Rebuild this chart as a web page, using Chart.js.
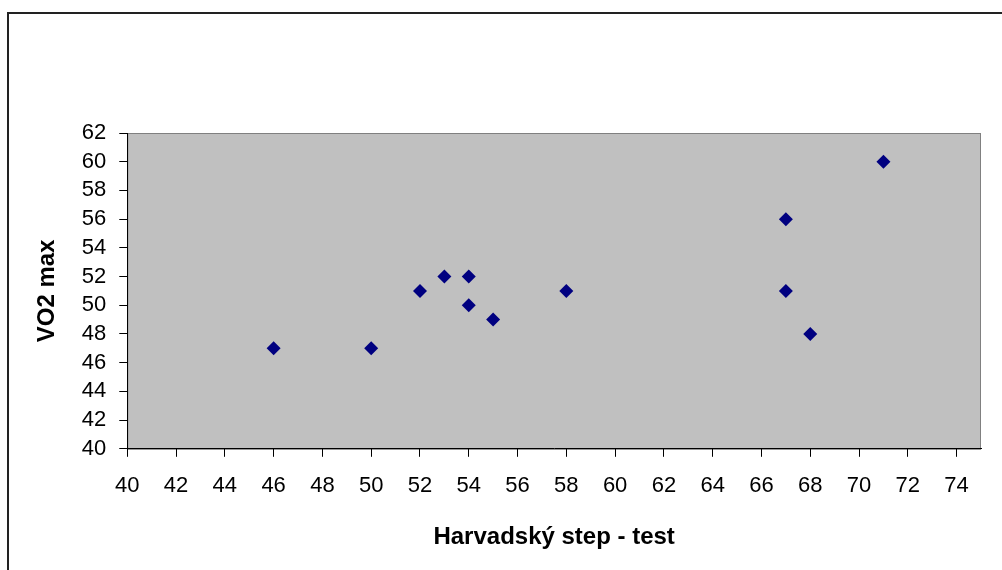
<!DOCTYPE html>
<html>
<head>
<meta charset="utf-8">
<script src="https://cdn.jsdelivr.net/npm/chart.js@4.4.1/dist/chart.umd.min.js"></script>
<style>
    body { margin: 0; background: #fff; }
    #frame {
        position: absolute; left: 7px; top: 12px; width: 1100px; height: 700px;
        border-left: 2px solid #222; border-top: 2px solid #222;
    }
    #wrap { position: absolute; left: 0; top: 0; width: 1002px; height: 570px; }
</style>
</head>
<body>
<div id="frame"></div>
<div id="wrap"><canvas id="scatterChart"></canvas></div>
<script>
// Harvard step test score vs VO2 max
const stepTest = [46, 50, 52, 53, 54, 54, 55, 58, 67, 67, 68, 71];
const vo2Max   = [47, 47, 51, 52, 52, 50, 49, 51, 56, 51, 48, 60];
const xTitle = 'Harvadský step - test';
const yTitle = 'VO2 max';

const points = stepTest.map((x, i) => ({ x: x, y: vo2Max[i] }));

// gray plot area with a gray frame (axes draw black on top)
const plotArea = {
    id: 'plotArea',
    beforeDraw(chart) {
        const { ctx, chartArea: a } = chart;
        ctx.save();
        ctx.fillStyle = '#c0c0c0';
        ctx.fillRect(a.left, a.top, a.right - a.left, a.bottom - a.top);
        ctx.strokeStyle = '#808080';
        ctx.lineWidth = 1;
        ctx.strokeRect(a.left + 0.5, a.top + 0.5, a.right - a.left - 1, a.bottom - a.top);
        ctx.restore();
    }
};

function initChart() {
    const ctx = document.getElementById('scatterChart').getContext('2d');
    new Chart(ctx, {
        type: 'scatter',
        data: {
            datasets: [{
                data: points,
                pointStyle: 'rectRot',
                pointRadius: 7,
                backgroundColor: '#000080',
                borderColor: '#000080',
                borderWidth: 0
            }]
        },
        options: {
            responsive: true,
            maintainAspectRatio: false,
            animation: false,
            layout: { padding: { top: 133, right: 21, left: 29, bottom: 14 } },
            plugins: { legend: { display: false }, tooltip: { enabled: false } },
            scales: {
                x: {
                    type: 'linear',
                    min: 40, max: 75,
                    ticks: { stepSize: 2, includeBounds: false, autoSkip: false, padding: 16, color: '#000',
                             font: { family: 'Liberation Sans', size: 22 } },
                    grid: { drawOnChartArea: false, tickLength: 8, color: '#000' },
                    border: { color: '#000', width: 1 },
                    title: { display: true, text: xTitle, color: '#000', padding: { top: 8 },
                             font: { family: 'Liberation Sans', size: 24, weight: 'bold' } }
                },
                y: {
                    min: 40, max: 62,
                    ticks: { stepSize: 2, autoSkip: false, padding: 13, color: '#000',
                             font: { family: 'Liberation Sans', size: 22, lineHeight: 1 } },
                    grid: { drawOnChartArea: false, tickLength: 8, color: '#000' },
                    border: { color: '#000', width: 1 },
                    title: { display: true, text: yTitle, color: '#000', padding: { bottom: 7 },
                             font: { family: 'Liberation Sans', size: 24, weight: 'bold' } }
                }
            }
        },
        plugins: [plotArea]
    });
}

document.addEventListener('DOMContentLoaded', initChart);
</script>
</body>
</html>
